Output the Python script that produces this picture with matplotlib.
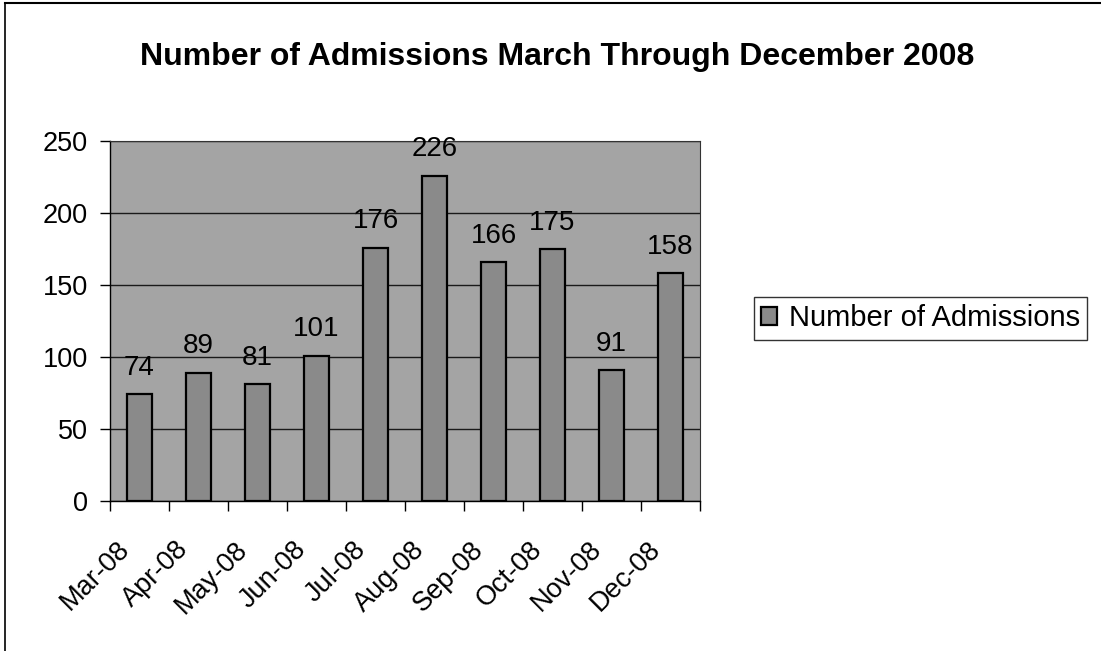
import matplotlib
matplotlib.use("Agg")
import matplotlib.pyplot as plt
import matplotlib.transforms as mtransforms
from matplotlib.lines import Line2D
import numpy as np

plt.rcParams['font.family'] = ['Liberation Sans', 'DejaVu Sans']

months = ["Mar-08", "Apr-08", "May-08", "Jun-08", "Jul-08",
          "Aug-08", "Sep-08", "Oct-08", "Nov-08", "Dec-08"]
admissions = [74, 89, 81, 101, 176, 226, 166, 175, 91, 158]
yticks = [0, 50, 100, 150, 200, 250]
title = "Number of Admissions March Through December 2008"
series_name = "Number of Admissions"

fig = plt.figure(figsize=(11.01, 6.51), dpi=100)
ax = fig.add_axes([110/1101, 1-501/651, 590/1101, 360/651])

bg = "#a4a4a4"
barc = "#8a8a8a"
ax.set_facecolor(bg)

x = np.arange(len(months))
bars = ax.bar(x, admissions, width=0.41, color=barc, edgecolor="black",
              linewidth=1.6, zorder=3, label=series_name)

ax.set_xlim(-0.5, len(months) - 0.5)
ax.set_ylim(0, 250)
ax.set_yticks(yticks)
ax.set_yticklabels([str(v) for v in yticks], fontsize=19.5)
ax.yaxis.grid(True, color="#1a1a1a", linewidth=1.0, zorder=1)
ax.set_axisbelow(True)
ax.tick_params(axis='y', direction='out', length=7, width=1, pad=9, colors='black')

# category labels at centres, boundary ticks as minor ticks
ax.set_xticks(x)
ax.set_xticklabels(months, fontsize=19.5, rotation=45, ha='right',
                   rotation_mode='anchor', va='center')
ax.tick_params(axis='x', which='major', length=0, pad=32)
ax.set_xticks(np.arange(-0.5, len(months), 1.0), minor=True)
ax.tick_params(axis='x', which='minor', direction='out', length=7, width=1)
offset = mtransforms.ScaledTranslation(-0.14, 0, fig.dpi_scale_trans)
for lab in ax.get_xticklabels():
    lab.set_transform(lab.get_transform() + offset)

for s in ax.spines.values():
    s.set_color("#333333")
    s.set_linewidth(0.8)
ax.spines['left'].set_color('black')
ax.spines['bottom'].set_color('black')
ax.spines['left'].set_linewidth(1.0)
ax.spines['bottom'].set_linewidth(1.0)

for xi, v in zip(x, admissions):
    ax.annotate(str(v), (xi, v), xytext=(0, 14), textcoords='offset points',
                ha='center', va='baseline', fontsize=20, zorder=4)

fig.text(557/1101, 1-65/651, title, ha='center', va='baseline',
         fontsize=23, fontweight='bold')

leg = fig.legend(handles=[bars], labels=[series_name], loc='center left',
                 bbox_to_anchor=(754/1101, 1-318.5/651), fontsize=21,
                 frameon=True, fancybox=False, edgecolor='black',
                 borderpad=0.25, handlelength=0.55, handleheight=0.55,
                 handletextpad=0.4, borderaxespad=0)
leg.get_frame().set_linewidth(1.0)

# outer chart border (left and top edges visible)
fig.add_artist(Line2D([5/1101, 5/1101], [0, 1-3/651], transform=fig.transFigure,
                      color='black', linewidth=1.2))
fig.add_artist(Line2D([5/1101, 1], [1-3/651, 1-3/651], transform=fig.transFigure,
                      color='black', linewidth=1.5))

fig.savefig("out.png", dpi=100)
